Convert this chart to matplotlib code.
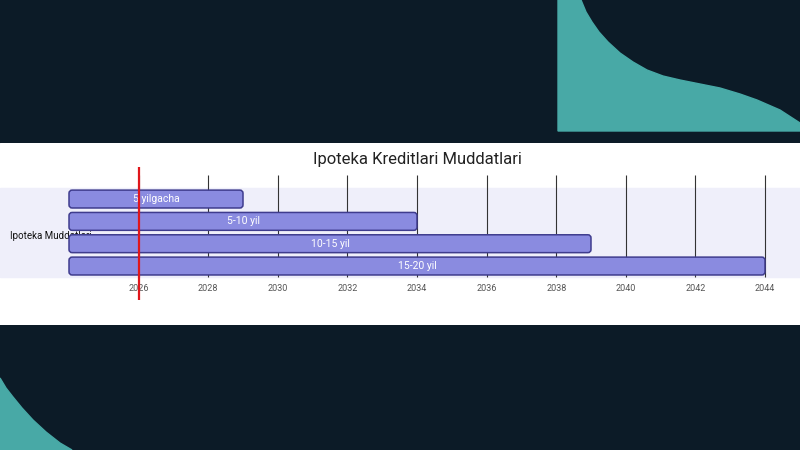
import numpy as np
import matplotlib
matplotlib.use('Agg')
import matplotlib.pyplot as plt
from matplotlib.patches import FancyBboxPatch, Polygon, Rectangle

plt.rcParams['font.family'] = ['Roboto', 'DejaVu Sans']

# chart data
title = 'Ipoteka Kreditlari Muddatlari'
section = 'Ipoteka Muddatlari'
tasks = ['5 yilgacha', '5-10 yil', '10-15 yil', '15-20 yil']
starts = [2024, 2024, 2024, 2024]
ends = [2029, 2034, 2039, 2044]
today = 2026
ticks = [2026, 2028, 2030, 2032, 2034, 2036, 2038, 2040, 2042, 2044]

# colours
dark = '#0c1b27'
teal = '#48a9a6'
bar_fill = '#8a8be0'
bar_edge = '#3f3c8e'
band = '#efeffa'

fig = plt.figure(figsize=(8, 4.5), dpi=100, facecolor=dark)

# background decoration (pixel coords)
bg = fig.add_axes([0, 0, 1, 1], zorder=0)
bg.set_xlim(0, 800)
bg.set_ylim(450, 0)
bg.axis('off')
bg.add_patch(Rectangle((0, 0), 800, 450, color=dark))
top_curve = [(581, 0), (586, 12), (592, 22), (599, 32), (608, 42), (620, 53),
             (633, 62), (647, 70), (663, 76), (680, 80), (700, 84), (720, 88),
             (740, 94), (757, 100), (780, 110), (800, 123)]
bg.add_patch(Polygon([(558, 0)] + top_curve + [(800, 131), (558, 131)], color=teal))
bot_curve = [(0, 378), (6, 388), (13, 397), (22, 408), (33, 420), (46, 432),
             (60, 443), (72, 450)]
bg.add_patch(Polygon(bot_curve + [(0, 450)], color=teal))

# chart panel
ax = fig.add_axes([0, 125 / 450, 1, 182 / 450], zorder=1)
ax.set_xlim(2022.017, 2045.006)
ax.set_ylim(5.64, -2.51)
ax.axis('off')
ax.add_patch(Rectangle((0, 0), 1, 1, transform=ax.transAxes, color='white', zorder=0))

ax.axhspan(-0.5, 3.47, color=band, zorder=1)
ax.vlines(ticks, -1.08, 3.47, color='#333333', linewidth=0.8, zorder=2)
for t in ticks:
    ax.text(t, 4.0, str(t), ha='center', va='center', fontsize=6.5, color='#555555', zorder=3)

ax.text(2022.3, 1.65, section, ha='left', va='center', fontsize=7, color='#111111', zorder=2)

for i, (name, s, e) in enumerate(zip(tasks, starts, ends)):
    p = FancyBboxPatch((s, i - 0.4), e - s, 0.8,
                       boxstyle='round,pad=0,rounding_size=0.09',
                       mutation_aspect=1.56,
                       facecolor=bar_fill, edgecolor=bar_edge, linewidth=1.1, zorder=3)
    ax.add_patch(p)
    ax.text((s + e) / 2, i, name, ha='center', va='center', fontsize=7.5, color='white', zorder=4)

ax.vlines(today, -1.43, 4.52, color='#e0161b', linewidth=1.6, zorder=5)
ax.text(2034, -1.75, title, ha='center', va='center', fontsize=12, color='#222222', zorder=4)

fig.savefig('out.png', dpi=100, facecolor=dark)
